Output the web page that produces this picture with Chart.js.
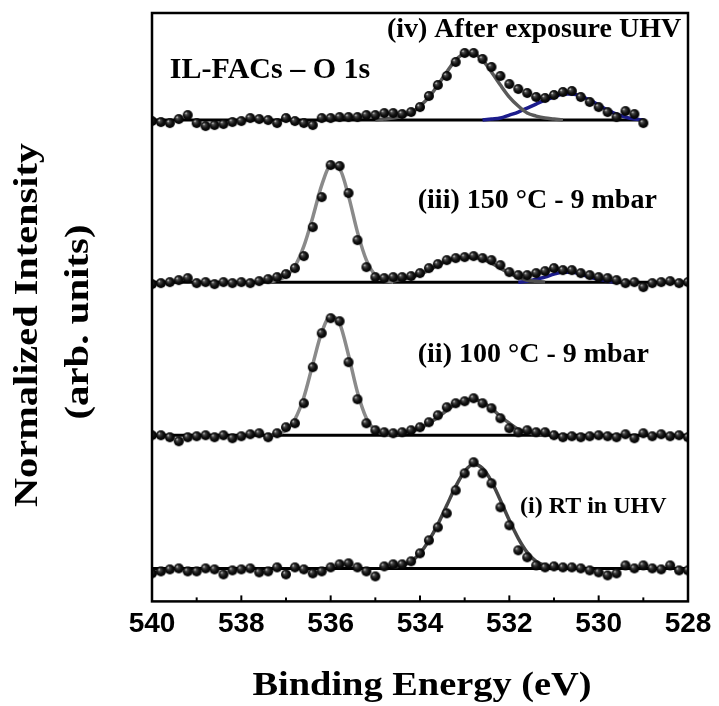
<!DOCTYPE html>
<html>
<head>
<meta charset="utf-8">
<script src="https://cdn.jsdelivr.net/npm/chart.js@4"></script>
<style>
  body { margin: 0; background: #fff; }
</style>
</head>
<body>
<canvas id="xps" width="719" height="706"></canvas>
<script>
// binding energy grid (eV), 0.2 eV steps
const energy = [
  540.0, 539.8, 539.6, 539.4, 539.2, 539.0, 538.8, 538.6, 538.4, 538.2,
  538.0, 537.8, 537.6, 537.4, 537.2, 537.0, 536.8, 536.6, 536.4, 536.2,
  536.0, 535.8, 535.6, 535.4, 535.2, 535.0, 534.8, 534.6, 534.4, 534.2,
  534.0, 533.8, 533.6, 533.4, 533.2, 533.0, 532.8, 532.6, 532.4, 532.2,
  532.0, 531.8, 531.6, 531.4, 531.2, 531.0, 530.8, 530.6, 530.4, 530.2,
  530.0, 529.8, 529.6, 529.4, 529.2, 529.0, 528.8, 528.6, 528.4, 528.2,
  528.0
];
const xTicks = [540, 538, 536, 534, 532, 530, 528];

// vertical offsets of the stacked spectra: (i), (ii), (iii), (iv)
const offsets = [0.33, 1.66, 3.19, 4.81];

// measured points (normalized, relative to own baseline)
const dataI = [
  -0.05, -0.03, -0.01, 0.00, -0.03, -0.03, 0.00, -0.01, -0.06, -0.02,
  -0.01, 0.00, -0.04, -0.03, 0.01, -0.06, 0.01, -0.01, -0.05, -0.03,
  0.01, 0.04, 0.05, 0.01, -0.03, -0.08, 0.02, 0.04, 0.04, 0.07,
  0.15, 0.28, 0.41, 0.55, 0.78, 0.95, 1.06, 0.95, 0.85, 0.61,
  0.43, 0.18, 0.11, 0.03, 0.01, 0.02, 0.01, 0.01, 0.00, -0.02,
  -0.04, -0.07, -0.05, 0.03, 0.00, 0.03, 0.00, -0.01, 0.03, -0.02,
  -0.02
];
const dataII = [
  0.00, 0.00, -0.02, -0.06, -0.02, -0.01, 0.00, -0.02, 0.00, -0.03,
  -0.01, 0.01, 0.02, -0.02, 0.02, 0.08, 0.12, 0.32, 0.68, 1.02,
  1.17, 1.14, 0.73, 0.36, 0.12, 0.05, 0.03, 0.02, 0.03, 0.05,
  0.08, 0.13, 0.20, 0.28, 0.32, 0.34, 0.37, 0.32, 0.27, 0.17,
  0.07, 0.03, 0.05, 0.03, 0.03, 0.00, -0.02, -0.01, -0.02, -0.01,
  0.00, -0.01, -0.02, 0.01, -0.03, 0.02, -0.01, 0.01, -0.01, 0.00,
  -0.02
];
const dataIII = [
  -0.02, -0.01, 0.00, 0.02, 0.04, -0.01, 0.00, -0.02, 0.00, -0.01,
  0.00, -0.01, 0.01, 0.03, 0.05, 0.08, 0.14, 0.26, 0.55, 0.85,
  1.17, 1.16, 0.89, 0.42, 0.15, 0.05, 0.04, 0.05, 0.05, 0.06,
  0.09, 0.14, 0.18, 0.22, 0.24, 0.25, 0.26, 0.24, 0.22, 0.17,
  0.10, 0.07, 0.07, 0.09, 0.11, 0.14, 0.12, 0.12, 0.09, 0.07,
  0.05, 0.04, 0.02, -0.01, 0.00, -0.05, -0.01, 0.00, 0.01, -0.01,
  0.00
];
const dataIV = [
  -0.01, -0.02, -0.03, 0.01, 0.05, -0.03, -0.06, -0.05, -0.04, -0.02,
  -0.01, 0.02, 0.01, 0.00, -0.03, 0.02, -0.01, -0.03, -0.05, 0.02,
  0.02, 0.03, 0.03, 0.03, 0.05, 0.05, 0.07, 0.07, 0.06, 0.08,
  0.13, 0.24, 0.35, 0.44, 0.58, 0.67, 0.67, 0.61, 0.53, 0.44,
  0.36, 0.31, 0.27, 0.23, 0.22, 0.25, 0.28, 0.29, 0.23, 0.18,
  0.13, 0.08, 0.03, 0.09, 0.06, -0.03
];

// fitted components; each starts at the given index of the energy grid
const fitI = [0.01, 0.03, 0.07, 0.15, 0.28, 0.44, 0.63, 0.82, 0.97, 1.04,
  1.00, 0.87, 0.68, 0.48, 0.30, 0.16, 0.07, 0.03, 0.01, 0.00];
const fitIFrom = 27;
const fitIIa = [0.00, 0.01, 0.05, 0.16, 0.38, 0.71, 1.03, 1.19, 1.12, 0.80,
  0.43, 0.17, 0.05, 0.01, 0.00];
const fitIIaFrom = 13;
const fitIIb = [0.00, 0.02, 0.04, 0.07, 0.12, 0.18, 0.25, 0.31, 0.35, 0.36,
  0.33, 0.27, 0.19, 0.12, 0.06, 0.03, 0.01, 0.00];
const fitIIbFrom = 27;
const fitIIIa = [0.00, 0.02, 0.06, 0.16, 0.36, 0.65, 0.97, 1.16, 1.13, 0.86,
  0.50, 0.22, 0.07, 0.02, 0.00];
const fitIIIaFrom = 13;
const fitIIIb = [0.00, 0.01, 0.03, 0.05, 0.08, 0.12, 0.17, 0.21, 0.24, 0.25,
  0.25, 0.23, 0.19, 0.14, 0.09, 0.05, 0.02, 0.01, 0.00];
const fitIIIbFrom = 26;
const fitIIIc = [0.00, 0.01, 0.03, 0.05, 0.08, 0.10, 0.10, 0.08, 0.05, 0.03,
  0.01, 0.00];
const fitIIIcFrom = 41;
const fitIVa = [0.00, 0.01, 0.02, 0.04, 0.07, 0.14, 0.23, 0.35, 0.48, 0.60,
  0.66, 0.66, 0.60, 0.48, 0.35, 0.23, 0.14, 0.07, 0.04, 0.02, 0.01, 0.00];
const fitIVaFrom = 25;
const fitIVb = [0.00, 0.01, 0.02, 0.05, 0.08, 0.12, 0.16, 0.20, 0.23, 0.26,
  0.26, 0.24, 0.20, 0.15, 0.10, 0.06, 0.03, 0.01, 0.00];
const fitIVbFrom = 37;

const labels = [
  { text: "IL-FACs \u2013 O 1s", x: 539.6, y: 5.23, size: 30 },
  { text: "(iv) After exposure UHV", x: 534.74, y: 5.64, size: 28 },
  { text: "(iii) 150 \u00B0C - 9 mbar", x: 534.05, y: 3.93, size: 28 },
  { text: "(ii) 100 \u00B0C - 9 mbar", x: 534.05, y: 2.39, size: 28 },
  { text: "(i) RT in UHV", x: 531.76, y: 0.88, size: 24 }
];

const SERIF = '"Liberation Serif", "Times New Roman", serif';

function pts(vals, from, off) {
  return vals.map((v, k) => ({ x: energy[from + k], y: v + off }));
}

function makeBall(r) {
  const c = document.createElement("canvas");
  const s = Math.ceil(r * 2) + 2;
  c.width = s;
  c.height = s;
  const g = c.getContext("2d");
  const grad = g.createRadialGradient(s / 2 - r * 0.4, s / 2 - r * 0.4, 0.2, s / 2, s / 2, r);
  grad.addColorStop(0, "#e8e8e8");
  grad.addColorStop(0.22, "#4a4a4a");
  grad.addColorStop(0.6, "#111");
  grad.addColorStop(1, "#000");
  g.fillStyle = grad;
  g.beginPath();
  g.arc(s / 2, s / 2, r, 0, Math.PI * 2);
  g.fill();
  return c;
}
const ball = makeBall(5);

function baseline(off, lastIdx) {
  return {
    data: [{ x: energy[0], y: off }, { x: energy[lastIdx], y: off }],
    borderColor: "#000", borderWidth: 3, pointRadius: 0, order: 3
  };
}
function fit(vals, from, off, color) {
  return {
    data: pts(vals, from, off),
    borderColor: color, borderWidth: 3.5, pointRadius: 0,
    cubicInterpolationMode: "monotone", order: 2
  };
}
function scatter(vals, off) {
  return {
    data: pts(vals, 0, off),
    showLine: false, pointStyle: ball, pointRadius: 5, order: 1
  };
}

const datasets = [
  baseline(offsets[0], 60), baseline(offsets[1], 60),
  baseline(offsets[2], 60), baseline(offsets[3], 55),
  fit(fitI, fitIFrom, offsets[0], "#474747"),
  fit(fitIIa, fitIIaFrom, offsets[1], "#8a8a8a"),
  fit(fitIIb, fitIIbFrom, offsets[1], "#5a5a5a"),
  fit(fitIIIa, fitIIIaFrom, offsets[2], "#8a8a8a"),
  fit(fitIIIb, fitIIIbFrom, offsets[2], "#505050"),
  fit(fitIIIc, fitIIIcFrom, offsets[2], "#1c1c8c"),
  fit(fitIVa, fitIVaFrom, offsets[3], "#5a5a5a"),
  fit(fitIVb, fitIVbFrom, offsets[3], "#1c1c8c"),
  scatter(dataI, offsets[0]),
  scatter(dataII, offsets[1]),
  scatter(dataIII, offsets[2]),
  scatter(dataIV, offsets[3])
];

function stretchText(ctx, text, x, y, width, size) {
  ctx.font = "bold " + size + "px " + SERIF;
  const w = ctx.measureText(text).width;
  ctx.save();
  ctx.translate(x, y);
  ctx.scale(width / w, 1);
  ctx.textAlign = "center";
  ctx.textBaseline = "alphabetic";
  ctx.fillText(text, 0, 0);
  ctx.restore();
}

const decor = {
  id: "decor",
  afterDraw(chart) {
    const ctx = chart.ctx;
    const a = chart.chartArea;
    const xs = chart.scales.x, ys = chart.scales.y;
    ctx.save();
    // frame
    ctx.strokeStyle = "#000";
    ctx.lineWidth = 2.5;
    ctx.strokeRect(a.left, a.top, a.right - a.left, a.bottom - a.top);
    // inward ticks
    ctx.lineWidth = 2;
    for (let v = 528; v <= 540; v++) {
      const px = xs.getPixelForValue(v);
      const len = v % 2 === 0 ? 6 : 4;
      ctx.beginPath();
      ctx.moveTo(px, a.bottom);
      ctx.lineTo(px, a.bottom - len);
      ctx.stroke();
    }
    // panel labels
    ctx.fillStyle = "#000";
    ctx.textAlign = "left";
    ctx.textBaseline = "alphabetic";
    labels.forEach(l => {
      ctx.font = "bold " + l.size + "px " + SERIF;
      ctx.fillText(l.text, xs.getPixelForValue(l.x), ys.getPixelForValue(l.y));
    });
    // axis titles
    stretchText(ctx, "Binding Energy (eV)", 422, 695, 339, 33);
    ctx.save();
    ctx.translate(37, 325);
    ctx.rotate(-Math.PI / 2);
    stretchText(ctx, "Normalized Intensity", 0, 0, 364, 33);
    ctx.restore();
    ctx.save();
    ctx.translate(88, 322);
    ctx.rotate(-Math.PI / 2);
    stretchText(ctx, "(arb. units)", 0, 0, 195, 33);
    ctx.restore();
    ctx.restore();
  }
};

new Chart(document.getElementById("xps"), {
  type: "line",
  data: { datasets: datasets },
  options: {
    responsive: false,
    animation: false,
    layout: { padding: { left: 152, right: 31, top: 13, bottom: 59 } },
    plugins: { legend: { display: false }, tooltip: { enabled: false } },
    scales: {
      x: {
        type: "linear",
        reverse: true,
        min: 528,
        max: 540,
        afterBuildTicks: axis => { axis.ticks = xTicks.map(v => ({ value: v })); },
        grid: { display: false, drawTicks: false },
        border: { display: false },
        ticks: {
          color: "#000",
          padding: 6,
          maxRotation: 0,
          autoSkip: false,
          font: { family: '"Liberation Sans", Arial, sans-serif', size: 28, weight: "bold" }
        }
      },
      y: {
        display: false,
        min: 0,
        max: 5.88
      }
    }
  },
  plugins: [decor]
});
</script>
</body>
</html>
